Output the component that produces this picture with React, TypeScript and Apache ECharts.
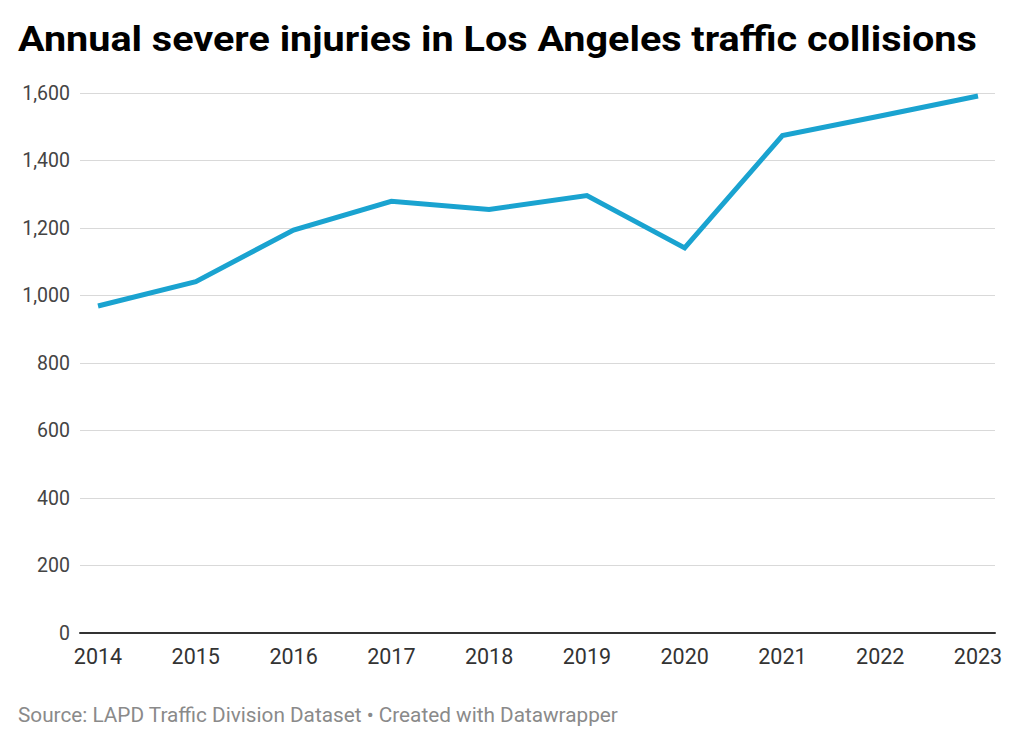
import React, { useEffect, useRef } from "react";
import * as echarts from "echarts";

const years = ["2014", "2015", "2016", "2017", "2018", "2019", "2020", "2021", "2022", "2023"];
const severeInjuries = [969, 1041, 1194, 1279, 1255, 1296, 1141, 1474, 1532, 1591];
const yTicks = { min: 0, max: 1600, interval: 200 };
const titleText = "Annual severe injuries in Los Angeles traffic collisions";
const sourceText = "Source: LAPD Traffic Division Dataset • Created with Datawrapper";

export default function App() {
  const ref = useRef<HTMLDivElement>(null);
  useEffect(() => {
    if (!ref.current) return;
    const chart = echarts.init(ref.current, null, { renderer: "svg" });
    const font = "Roboto, 'Noto Sans', sans-serif";
    chart.setOption({
      animation: false,
      backgroundColor: "#ffffff",
      textStyle: { fontFamily: font },
      graphic: [
        {
          type: "text",
          x: 18,
          y: 21,
          scaleX: 1.13,
          style: {
            text: titleText,
            font: "bold 35px Roboto, sans-serif",
            fill: "#000000",
            verticalAlign: "top",
          },
        },
        {
          type: "text",
          x: 18,
          y: 705,
          scaleX: 1.065,
          style: {
            text: sourceText,
            font: "19.5px Roboto, sans-serif",
            fill: "#8a8a8a",
            verticalAlign: "top",
          },
        },
      ],
      grid: [
        { left: 80, right: 29, top: 93, bottom: 113, containLabel: false },
        { left: 98, right: 46, top: 93, bottom: 113, containLabel: false },
      ],
      xAxis: [
        {
          gridIndex: 0,
          type: "category",
          data: years,
          boundaryGap: false,
          axisLine: { show: true, lineStyle: { color: "#333333", width: 2 } },
          axisTick: { show: false },
          axisLabel: { show: false },
          splitLine: { show: false },
        },
        {
          gridIndex: 1,
          type: "category",
          data: years,
          boundaryGap: false,
          axisLine: { show: false },
          axisTick: { show: false },
          axisLabel: { color: "#333333", fontSize: 21.5, margin: 12, fontFamily: font },
          splitLine: { show: false },
        },
      ],
      yAxis: [
        {
          gridIndex: 0,
          type: "value",
          min: yTicks.min,
          max: yTicks.max,
          interval: yTicks.interval,
          axisLine: { show: false },
          axisTick: { show: false },
          axisLabel: {
            color: "#444444",
            fontSize: 19.5,
            margin: 10,
            fontFamily: font,
            formatter: (v: number) => v.toLocaleString("en-US"),
          },
          splitLine: { show: true, lineStyle: { color: "#d9d9d9", width: 1 } },
        },
        {
          gridIndex: 1,
          type: "value",
          min: yTicks.min,
          max: yTicks.max,
          interval: yTicks.interval,
          axisLine: { show: false },
          axisTick: { show: false },
          axisLabel: { show: false },
          splitLine: { show: false },
        },
      ],
      series: [
        {
          type: "line",
          xAxisIndex: 1,
          yAxisIndex: 1,
          data: severeInjuries,
          symbol: "none",
          lineStyle: { color: "#1aa3d0", width: 5, join: "miter" },
          z: 5,
        },
      ],
    });
    return () => chart.dispose();
  }, []);
  return (
    <div
      ref={ref}
      style={{ position: "fixed", left: 0, top: 0, width: 1024, height: 746, background: "#fff" }}
    />
  );
}
